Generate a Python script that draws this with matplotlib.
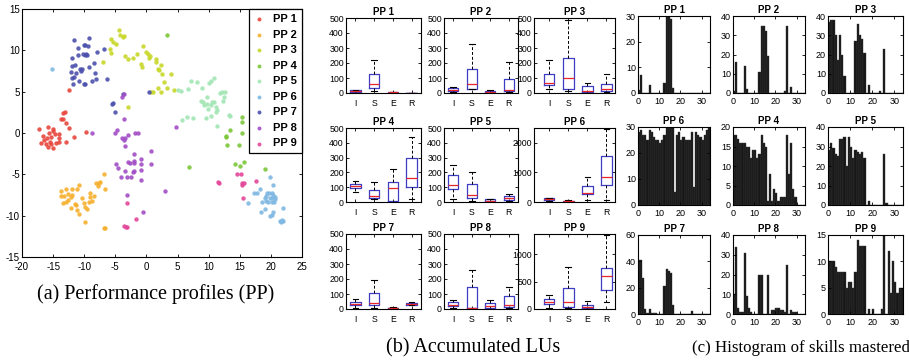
"""Three-panel figure: t-SNE of performance profiles, accumulated LU boxplots,
and histograms of mastered skills per profile."""

import matplotlib

matplotlib.use("Agg")
import matplotlib.pyplot as plt
import numpy as np

plt.rcParams["axes.unicode_minus"] = False

W, H = 909, 360

PROFILES = ["PP 1", "PP 2", "PP 3", "PP 4", "PP 5", "PP 6", "PP 7", "PP 8", "PP 9"]
COLORS = ["#e8473c", "#f7b02e", "#c8d82a", "#7cc73a", "#a3e6b5",
          "#7fb8e2", "#4b51ad", "#a24ec6", "#e3479a"]

# (a) embedding coordinates, one list per profile
scatter_x = [
    [-17.2, -15.75, -14.95, -16.65, -16.97, -16.2, -15.9, -14.95, -15.5, -16.0, -15.3, -14.7,
     -14.1, -14.05, -14.5, -15.3, -14.0, -15.05, -15.6, -16.4, -13.8, -13.47, -13.47, -13.05,
     -12.9, -12.5, -12.9, -11.6, -12.4, -9.75],
    [-13.8, -13.0, -12.0, -11.2, -10.8, -13.7, -13.25, -12.56, -12.03, -12.67, -13.47, -12.9,
     -12.2, -11.5, -11.3, -12.2, -11.13, -10.86, -10.4, -10.07, -9.9, -9.5, -9.1, -9.0, -9.2,
     -8.5, -8.7, -8.05, -7.83, -7.7, -7.5, -6.88, -6.6, -9.85, -6.88, -6.67],
    [-4.4, -4.2, -3.8, -3.6, -5.76, -5.4, -4.97, -5.9, -5.7, -6.98, -3.4, -2.9, -2.2, -1.46,
     -0.6, -0.8, -0.7, 0.0, 0.3, 0.35, 0.5, 1.5, 1.6, 1.8, 2.0, 2.3, 2.5, 2.8, 3.9, 1.9, 3.3,
     2.4, 0.8, 1.1, 4.4, -3.0],
    [3.3, 15.3, 15.4, 15.3, 13.4, 12.8, 12.85, 13.0, 14.8, 14.2, 15.6, 15.0, 19.0, 6.8],
    [5.0, 5.5, 6.6, 7.1, 8.1, 9.0, 9.7, 10.0, 10.3, 10.9, 8.8, 9.1, 9.3, 9.8, 9.9, 10.4, 10.5,
     10.9, 11.1, 11.4, 11.2, 10.4, 9.6, 11.8, 12.1, 12.6, 12.4, 12.3, 13.2, 13.4, 11.3, 7.5,
     6.5, 5.7],
    [-15.1, 19.3, 19.7, 20.1, 20.4, 20.6, 20.7, 20.5, 20.1, 19.6, 19.2, 19.05, 19.2, 19.85, 20.2,
     19.9, 20.3, 18.3, 17.8, 17.35, 18.5, 16.3, 19.0, 18.45, 19.8, 20.2, 20.3, 22.0, 21.5, 21.6,
     22.0, 21.8],
    [-11.7, -9.2, -11.0, -10.0, -9.8, -9.4, -11.9, -11.0, -10.2, -9.9, -9.75, -9.6, -7.9, -6.8,
     -12.0, -11.5, -10.6, -10.3, -9.3, -8.5, -12.2, -11.35, -10.5, -12.0, -11.7, -10.9, -10.1,
     -9.85, -11.8, -8.8, -8.3, -8.1, -6.35, -3.7, -5.5, -5.3, -5.1, 0.4],
    [-3.9, -3.6, -3.6, -4.7, -5.0, -3.85, -3.6, -3.4, -3.5, -3.0, -1.9, -1.4, -8.8, 4.8, -4.85,
     -4.6, -2.95, -2.7, -2.0, -2.0, -1.95, -0.8, -0.8, 0.7, 0.7, -3.5, -2.2, -2.0, -4.1, -3.1,
     -2.5, -0.9, -0.9, -3.2, -0.6, 3.0],
    [-3.2, -3.6, -3.3, -3.1, -1.6, 11.5, 11.6, 14.5, 15.2, 15.3, 15.35, 15.6, 15.55, 17.6],
]
scatter_y = [
    [0.43, 0.67, 0.43, -0.34, -1.19, -1.35, -1.7, -1.83, -1.07, -0.58, -0.46, -0.18, -0.14,
     -0.58, -1.19, -1.35, -1.07, 0.22, 0.0, -0.87, 1.72, 1.64, 2.44, 2.57, 1.23, 0.62, -1.07,
     -0.46, 5.19, 0.14],
    [-7.04, -6.8, -6.8, -6.8, -6.28, -7.6, -7.65, -7.33, -7.53, -8.05, -8.46, -8.33, -7.8, -8.6,
     -8.7, -9.1, -9.27, -9.8, -7.9, -8.5, -9.0, -9.2, -7.2, -7.8, -8.4, -7.6, -8.2, -6.1, -6.4,
     -6.1, -5.9, -5.0, -6.76, -10.75, -11.52, -11.48],
    [12.4, 11.9, 11.6, 11.7, 11.4, 11.0, 10.8, 10.2, 9.7, 8.6, 9.3, 9.0, 9.1, 9.5, 10.5, 8.3,
     8.0, 9.75, 9.5, 9.1, 9.3, 8.9, 8.6, 7.8, 7.6, 8.2, 7.1, 6.2, 7.1, 5.4, 5.4, 4.9, 4.9, 5.0,
     5.2, 3.1],
    [11.9, 1.9, 1.35, 0.0, 0.35, -0.4, -0.5, -1.45, -1.45, -3.7, -3.5, -4.0, -4.3, -4.1],
    [5.2, 5.1, 5.35, 6.3, 6.2, 5.5, 4.4, 6.1, 6.3, 6.6, 3.9, 3.7, 3.4, 3.5, 2.9, 3.4, 3.8, 3.8,
     3.1, 2.8, 2.6, 2.1, 1.8, 4.8, 5.0, 5.0, 4.4, 3.9, 2.2, 2.1, 0.8, 1.8, 1.9, 1.6],
    [7.8, -7.25, -7.25, -7.25, -7.5, -7.7, -8.0, -8.3, -8.4, -8.4, -8.2, -7.9, -7.65, -7.85,
     -7.9, -5.3, -6.35, -6.8, -7.3, -7.25, -8.3, -8.5, -9.2, -9.6, -10.1, -9.9, -9.6, -9.1,
     -10.6, -10.8, -10.7, -10.5],
    [11.2, 11.5, 10.3, 10.7, 10.7, 10.5, 9.1, 9.4, 9.55, 9.4, 9.55, 9.45, 9.8, 10.2, 8.1, 8.25,
     7.8, 7.7, 8.0, 8.45, 7.4, 7.3, 7.45, 6.7, 6.8, 6.3, 5.9, 5.9, 5.9, 6.3, 7.2, 6.55, 6.55,
     4.7, 3.45, 3.6, 2.5, 5.0],
    [4.4, 4.7, 1.65, 0.35, 0.05, -0.6, -0.8, -0.6, -1.6, -0.2, 0.0, -0.05, 0.05, 0.7, -3.7,
     -4.25, -3.45, -3.6, -2.5, -3.4, -3.65, -3.1, -3.8, -3.7, -2.15, -4.65, -4.7, -4.65, -5.3,
     -5.3, -5.3, -4.5, -5.7, -7.5, -9.5, -7.0],
    [-8.5, -11.2, -11.35, -11.35, -10.4, -5.9, -6.0, -4.95, -5.0, -6.3, -6.1, -6.0, -7.9, -5.85],
]

# (b) accumulated LUs: box statistics per profile for I, S, E, R
BOX_GROUPS = ["I", "S", "E", "R"]
box_whislo = [[0, 15, 0, 0], [5, 25, 2, 10], [30, 15, 0, 5],
              [65, 20, 0, 20], [20, 5, 2, 8], [40, 5, 60, 60],
              [10, 10, 2, 25], [10, 5, 2, 10], [20, 20, 0, 120]]
box_q1 = [[8, 35, 2, 0], [12, 30, 5, 12], [52, 30, 5, 15],
          [95, 30, 5, 98], [88, 25, 5, 15], [70, 15, 260, 560],
          [25, 25, 4, 28], [18, 8, 10, 15], [100, 40, 10, 350]]
box_med = [[12, 62, 5, 0], [22, 62, 10, 18], [65, 100, 12, 30],
           [108, 40, 95, 165], [118, 45, 10, 25], [95, 30, 320, 850],
           [35, 40, 6, 32], [30, 10, 20, 25], [120, 130, 30, 600]]
box_q3 = [[18, 125, 8, 0], [32, 158, 15, 95], [125, 235, 45, 62],
          [122, 82, 135, 300], [183, 122, 18, 38], [120, 45, 550, 1560],
          [50, 108, 10, 42], [45, 148, 42, 88], [180, 380, 80, 750]]
box_whishi = [[22, 220, 10, 0], [40, 330, 22, 208], [220, 490, 70, 125],
              [145, 135, 225, 440], [250, 205, 22, 55], [150, 60, 860, 2480],
              [70, 195, 12, 45], [60, 260, 62, 150], [260, 760, 150, 1350]]
box_ymax = [500, 500, 500, 500, 500, 2500, 500, 500, 1370]
box_ystep = [100, 100, 100, 100, 100, 1000, 100, 100, 500]

# (c) number of students per mastered-skill count, panel order as in the figure
hist_titles = ["PP 1", "PP 2", "PP 3", "PP 6", "PP 4", "PP 5", "PP 7", "PP 8", "PP 9"]
hist_counts = [
    [1, 7, 0, 0, 0, 3, 0, 0, 0, 0, 0, 0, 4, 30, 30, 29, 2, 0, 0, 0, 0, 0, 0, 0, 0, 0, 0, 0,
     0, 0, 0, 0, 0, 0],
    [1, 16, 0, 0, 0, 14, 2, 0, 0, 0, 0, 0, 11, 35, 35, 32, 19, 0, 0, 0, 0, 0, 0, 0, 1, 35, 0,
     3, 0, 0, 0, 0, 0, 0],
    [37, 38, 38, 30, 17, 30, 20, 9, 0, 0, 0, 0, 27, 36, 30, 28, 21, 0, 4, 0, 0, 0, 0, 1, 0,
     23, 0, 0, 0, 0, 0, 0, 0, 0],
    [28, 29, 27, 27, 25, 29, 28, 26, 25, 25, 24, 25, 27, 30, 30, 30, 30, 5, 27, 28, 25, 26,
     25, 25, 25, 28, 7, 28, 27, 26, 25, 27, 29, 30],
    [18, 18, 17, 16, 16, 16, 15, 15, 12, 14, 14, 12, 13, 18, 16, 15, 1, 8, 1, 4, 3, 1, 2, 2,
     2, 18, 8, 16, 4, 2, 0, 0, 0, 0],
    [28, 32, 29, 26, 25, 34, 34, 35, 20, 35, 30, 24, 28, 27, 26, 27, 24, 0, 2, 0, 0, 0, 0, 0,
     0, 26, 1, 0, 0, 0, 0, 0, 0, 0],
    [41, 41, 27, 4, 1, 4, 1, 1, 1, 0, 0, 0, 21, 34, 33, 31, 7, 0, 0, 0, 0, 0, 0, 0, 0, 2, 0,
     0, 0, 0, 0, 0, 0, 0],
    [10, 34, 3, 1, 1, 31, 9, 3, 1, 0, 0, 0, 20, 20, 0, 0, 20, 0, 2, 2, 3, 3, 2, 2, 1, 25, 0,
     2, 1, 1, 0, 0, 0, 0],
    [10, 10, 10, 9, 8, 8, 8, 8, 5, 6, 6, 5, 8, 14, 13, 13, 13, 0, 1, 0, 1, 0, 0, 0, 1, 15, 0,
     12, 4, 10, 6, 4, 5, 5],
]
hist_ymax = [30, 40, 40, 30, 20, 40, 60, 40, 15]
hist_ystep = [10, 10, 10, 10, 5, 10, 20, 10, 5]

SANS = "Liberation Sans"
SERIF = "Liberation Serif"


def _rect(left, top, right, bottom):
    """Pixel box -> figure fraction [l, b, w, h]."""
    return [left / W, 1 - bottom / H, (right - left) / W, (bottom - top) / H]


def _style(ax, size, xpad=3.0):
    ax.tick_params(direction="in", top=True, right=True, length=2, width=0.6,
                   labelsize=size, pad=1.5)
    ax.tick_params(axis="x", pad=xpad)
    for sp in ax.spines.values():
        sp.set_linewidth(0.8)
    for lab in ax.get_xticklabels() + ax.get_yticklabels():
        lab.set_family(SANS)


def _scatter_panel(fig):
    ax = fig.add_axes(_rect(22, 9, 302, 257))
    for xs, ys, c, name in zip(scatter_x, scatter_y, COLORS, PROFILES):
        ax.scatter(xs, ys, s=10, color=c, alpha=0.9, linewidths=0, label=name)
    ax.set_xlim(-20, 25)
    ax.set_ylim(-15, 15)
    ax.set_xticks(np.arange(-20, 26, 5))
    ax.set_yticks(np.arange(-15, 16, 5))
    _style(ax, 7, xpad=3.5)
    leg = ax.legend(loc="upper right", borderaxespad=0, fancybox=False, framealpha=1,
                    edgecolor="black", handlelength=0.8, handletextpad=0.9,
                    labelspacing=0.5, borderpad=0.45, markerscale=0.9,
                    prop={"family": SANS, "weight": "bold", "size": 8})
    leg.get_frame().set_linewidth(0.9)


def _box_panel(fig):
    cols = [(346, 421, (0.5, 4.5)), (444, 518, (0.5, 4.5)), (534, 615, (0.2, 4.45))]
    rows = [(18, 93), (128, 202), (234, 309)]
    for k in range(9):
        left, right, xl = cols[k % 3]
        top, bottom = rows[k // 3]
        ax = fig.add_axes(_rect(left, top, right, bottom))
        stats = []
        for g in range(4):
            stats.append({"whislo": box_whislo[k][g], "q1": box_q1[k][g],
                          "med": box_med[k][g], "q3": box_q3[k][g],
                          "whishi": box_whishi[k][g], "fliers": []})
        ax.bxp(stats, positions=[1, 2, 3, 4], widths=0.55, capwidths=0.3,
               showfliers=False,
               boxprops={"color": "#3d3dc4", "linewidth": 0.9},
               medianprops={"color": "#e8262a", "linewidth": 0.9},
               whiskerprops={"color": "black", "linewidth": 0.7,
                             "linestyle": (0, (3, 2))},
               capprops={"color": "black", "linewidth": 0.8})
        ax.set_xlim(*xl)
        ax.set_ylim(0, box_ymax[k])
        ax.set_xticks([1, 2, 3, 4])
        ax.set_xticklabels(BOX_GROUPS)
        ax.set_yticks(np.arange(0, box_ymax[k] + 1, box_ystep[k]))
        _style(ax, 6.3, xpad=4.5)
        ax.set_title(PROFILES[k], fontsize=7, fontweight="bold", family=SANS, pad=2.5)


def _hist_panel(fig):
    cols = [(638, 710), (733, 805), (828, 903)]
    rows = [(16, 93), (127, 205), (235, 314)]
    skills = np.arange(34)
    for k in range(9):
        left, right = cols[k % 3]
        top, bottom = rows[k // 3]
        ax = fig.add_axes(_rect(left, top, right, bottom))
        ax.bar(skills, hist_counts[k], width=1.0, align="edge", color="#161616",
               edgecolor="#3a3a3a", linewidth=0.3)
        ax.set_xlim(0, 34)
        ax.set_ylim(0, hist_ymax[k])
        ax.set_xticks([0, 10, 20, 30])
        ax.set_yticks(np.arange(0, hist_ymax[k] + 1, hist_ystep[k]))
        _style(ax, 6.5, xpad=3.0)
        ax.set_title(hist_titles[k], fontsize=7, fontweight="bold", family=SANS, pad=2.5)


fig = plt.figure(figsize=(W / 100, H / 100), dpi=100)
_scatter_panel(fig)
_box_panel(fig)
_hist_panel(fig)

fig.text(156 / W, 1 - 294 / H, "(a) Performance profiles (PP)", ha="center", va="center",
         family=SERIF, fontsize=14.5)
fig.text(473 / W, 1 - 348 / H, "(b) Accumulated LUs", ha="center", va="center",
         family=SERIF, fontsize=14.5)
fig.text(801 / W, 1 - 348 / H, "(c) Histogram of skills mastered", ha="center",
         va="center", family=SERIF, fontsize=12.2)

fig.savefig("out.png", dpi=100)
